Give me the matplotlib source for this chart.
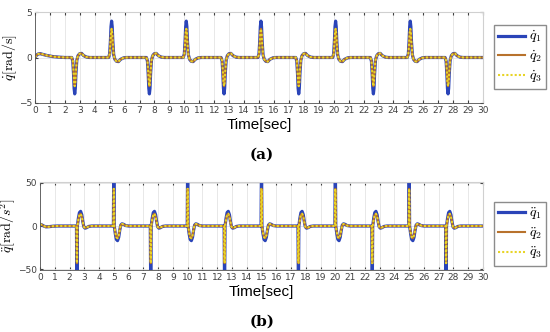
import numpy as np
import matplotlib.pyplot as plt

# ---- data ----
# pulse centres (velocity peak) in seconds
neg_peaks = [2.66, 7.66, 12.66, 17.66, 22.66, 27.66]
pos_peaks = [5.13, 10.13, 15.13, 20.13, 25.13]

# velocity shape around a negative peak (offsets in s, values in rad/s)
vel_dt  = [-0.20, -0.13, -0.08, -0.04, 0.0, 0.04, 0.08, 0.14, 0.22, 0.33, 0.46, 0.60, 0.80, 1.00]
vel_q1  = [0.0, -0.4, -1.8, -3.4, -4.0, -3.4, -1.8, -0.3, 0.2, 0.42, 0.45, 0.2, 0.04, 0.0]
vel_q2  = [0.0, -0.35, -1.5, -2.7, -3.15, -2.7, -1.5, -0.3, 0.2, 0.42, 0.45, 0.2, 0.04, 0.0]

# start-up transient of velocity
vel0_t  = [0.0, 0.1, 0.2, 0.35, 0.5, 0.8, 1.2, 1.6, 2.0]
vel0_v  = [0.0, 0.25, 0.38, 0.42, 0.35, 0.22, 0.1, 0.04, 0.0]

# acceleration shape around a negative event (offsets from event start, rad/s^2)
acc_dt  = [-0.03, -0.01, 0.0, 0.01, 0.03, 0.10, 0.17, 0.25, 0.33, 0.40, 0.47, 0.55, 0.65, 0.80, 1.00]
acc_q1  = [0.0, -53.0, -53.0, -53.0, 0.0, 9.0, 15.5, 17.0, 13.0, 5.0, -1.0, -2.5, -2.0, -0.5, 0.0]
acc_q2  = [0.0, -43.0, -43.0, -43.0, 0.0, 7.5, 13.0, 14.2, 11.0, 4.5, -1.0, -2.3, -1.8, -0.5, 0.0]
neg_starts = [2.5, 7.5, 12.5, 17.5, 22.5, 27.5]
pos_starts = [5.0, 10.0, 15.0, 20.0, 25.0]

# start-up transient of acceleration
acc0_t  = [0.0, 0.1, 0.25, 0.4, 0.6, 0.9, 1.2]
acc0_v  = [2.0, 1.5, 0.0, -1.0, -0.8, -0.2, 0.0]

T_END = 30.0


def build(events, dt, neg_vals, t0, v0):
	# events: list of (time, sign)
	t = list(t0)
	v = list(v0)
	for tc, s in sorted(events):
		for d, y in zip(dt, neg_vals):
			t.append(tc + d)
			v.append(s * y)
	t.append(T_END)
	v.append(0.0)
	return np.array(t), np.array(v)


vel_events = [(p, 1) for p in neg_peaks] + [(p, -1) for p in pos_peaks]
acc_events = [(p, 1) for p in neg_starts] + [(p, -1) for p in pos_starts]

tv1, v1 = build(vel_events, vel_dt, vel_q1, vel0_t, vel0_v)
tv2, v2 = build(vel_events, vel_dt, vel_q2, vel0_t, vel0_v)
ta1, a1 = build(acc_events, acc_dt, acc_q1, acc0_t, acc0_v)
ta2, a2 = build(acc_events, acc_dt, acc_q2, acc0_t, acc0_v)

c1 = "#2a44b8"
c2 = "#b8722c"
c3 = "#e8d426"

plt.rcParams["mathtext.fontset"] = "cm"

fig = plt.figure(figsize=(5.5, 3.32), dpi=100)
ax1 = fig.add_axes([35/550, 1-103/332, (483-35)/550, (103-12)/332])
ax2 = fig.add_axes([40/550, 1-270/332, (483-40)/550, (270-182)/332])


def style(ax, ylim, yticks):
	ax.set_xlim(0, 30)
	ax.set_ylim(*ylim)
	ax.set_xticks(range(0, 31))
	ax.set_yticks(yticks)
	ax.grid(True, color="#e4e4e4", lw=0.6)
	ax.set_axisbelow(True)
	ax.tick_params(direction="in", length=2.5, labelsize=6.5, colors="#404040",
		top=True, right=True, pad=2)
	for s in ["top", "right"]:
		ax.spines[s].set_color("#d0d0d0")
	for s in ["left", "bottom"]:
		ax.spines[s].set_color("#505050")
		ax.spines[s].set_linewidth(0.6)
	ax.set_xlabel("Time[sec]", fontsize=11, family="Liberation Sans", labelpad=2)


leg_kw = dict(loc="upper left", fontsize=10, frameon=True, fancybox=False,
	edgecolor="#707070", handlelength=1.9, borderpad=0.3, labelspacing=0.25,
	handletextpad=0.3, borderaxespad=0)

ax1.plot(tv1, v1, color=c1, lw=2.3, label=r"$\dot{q}_1$")
ax1.plot(tv2, v2, color=c2, lw=1.5, label=r"$\dot{q}_2$")
ax1.plot(tv2, v2, color=c3, lw=1.5, ls=(0, (1, 1)), label=r"$\dot{q}_3$")
style(ax1, (-5, 5), [-5, 0, 5])
ax1.set_ylabel(r"$\dot{q}[\mathrm{rad/s}]$", fontsize=10, labelpad=0)
ax1.legend(bbox_to_anchor=(1.025, 0.857), **leg_kw)

ax2.plot(ta1, a1, color=c1, lw=2.3, label=r"$\ddot{q}_1$")
ax2.plot(ta2, a2, color=c2, lw=1.5, label=r"$\ddot{q}_2$")
ax2.plot(ta2, a2, color=c3, lw=1.5, ls=(0, (1, 1)), label=r"$\ddot{q}_3$")
style(ax2, (-51, 51), [-50, 0, 50])
ax2.set_ylabel(r"$\ddot{q}[\mathrm{rad}/s^2]$", fontsize=10, labelpad=0)
ax2.legend(bbox_to_anchor=(1.025, 0.773), **leg_kw)

fig.text(262/550, 1-155/332, "(a)", ha="center", va="center", fontsize=11,
	family="DejaVu Serif", weight="bold")
fig.text(262/550, 1-322/332, "(b)", ha="center", va="center", fontsize=11,
	family="DejaVu Serif", weight="bold")

fig.savefig("out.png", dpi=100)
